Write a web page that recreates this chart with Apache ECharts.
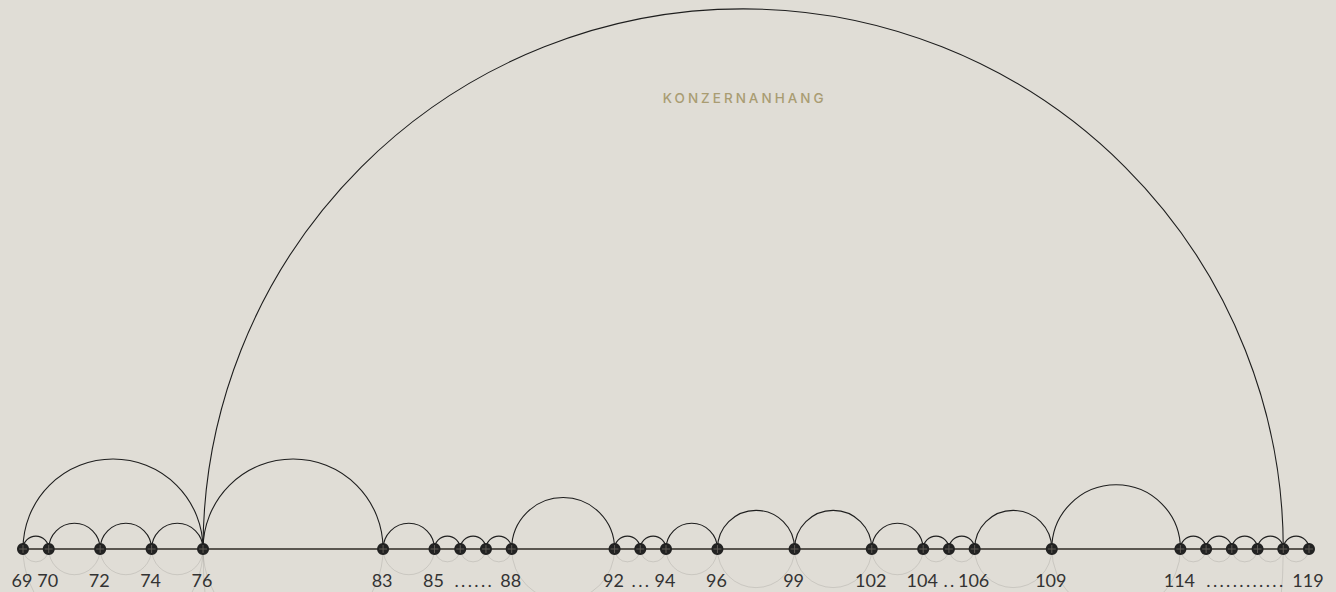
<!DOCTYPE html>
<html>
<head>
<meta charset="utf-8">
<script src="https://cdn.jsdelivr.net/npm/echarts@6/dist/echarts.min.js"></script>
<style>
html,body{margin:0;padding:0;background:#e0ddd6;}
#chart{width:1336px;height:592px;}
</style>
</head>
<body>
<div id="chart"></div>
<script>
const pages = [69,70,72,74,76,83,85,86,87,88,92,93,94,96,99,102,104,105,106,109,114,115,116,117,118,119];
const pageLabels = ['69','70','72','74','76','83','85','...','...','88','92','...','94','96','99','102','104','..','106','109','114','...','...','...','...','119'];
const links = [
  [69,70],[70,72],[72,74],[74,76],[76,83],[83,85],[85,86],[86,87],[87,88],[88,92],
  [92,93],[93,94],[94,96],[96,99],[99,102],[102,104],[104,105],[105,106],[106,109],[109,114],
  [114,115],[115,116],[116,117],[117,118],[118,119],
  [69,76],[76,118]
];
const titleText = 'KONZERNANHANG';
const titleAnchor = [76,118]; // title centred over this arc

const isDots = s => /^\.+$/.test(s);
const LABEL_FONT = '18px "Lato", "Noto Sans", sans-serif';
const DOT_PITCH = 6.6;

const chart = echarts.init(document.getElementById('chart'), null, {renderer:'svg'});

chart.setOption({
  backgroundColor:'#e0ddd6',
  animation:false,
  grid:{left:23,right:27,top:0,bottom:43},
  xAxis:{type:'value',min:69,max:119,
    axisLine:{show:true,onZero:false,lineStyle:{color:'#5a5650',width:2}},
    axisTick:{show:false},axisLabel:{show:false},splitLine:{show:false}},
  yAxis:{type:'value',min:0,max:1,show:false},
  series:[
    {
      type:'custom',
      clip:false,
      z:2,
      data:links.map(l=>[l[0],l[1],0]),
      encode:{x:[0,1],y:2},
      renderItem:function(params,api){
        const p1 = api.coord([api.value(0),0]);
        const p2 = api.coord([api.value(1),0]);
        const cx = (p1[0]+p2[0])/2, cy = p1[1], r = (p2[0]-p1[0])/2;
        return {type:'group',children:[
          {type:'arc',shape:{cx:cx,cy:cy,r:r,startAngle:0,endAngle:Math.PI,clockwise:true},
           style:{fill:null,stroke:'rgba(0,0,0,0.1)',lineWidth:1}},
          {type:'arc',shape:{cx:cx,cy:cy,r:r,startAngle:Math.PI,endAngle:2*Math.PI,clockwise:true},
           style:{fill:null,stroke:'#1e1e1e',lineWidth:1.1}}
        ]};
      }
    },
    {
      type:'custom',
      clip:false,
      z:3,
      data:pages.map((p,i)=>[p,0]),
      encode:{x:0,y:1},
      renderItem:function(params,api){
        const i = params.dataIndex;
        const p = api.coord([api.value(0),0]);
        const label = pageLabels[i];
        const children = [
          {type:'circle',shape:{cx:p[0],cy:p[1],r:6},style:{fill:'#222'}},
          {type:'line',shape:{x1:p[0]-4,y1:p[1],x2:p[0]+4,y2:p[1]},style:{stroke:'#5e5a55',lineWidth:1}},
          {type:'line',shape:{x1:p[0],y1:p[1]-4,x2:p[0],y2:p[1]+4},style:{stroke:'#5e5a55',lineWidth:1}}
        ];
        const ty = p[1]+31;
        if(!isDots(label)){
          children.push({type:'text',x:p[0]-1,y:ty,style:{text:label,fill:'#333',align:'center',verticalAlign:'middle',font:LABEL_FONT}});
        } else {
          // dots of a run of consecutive pages are spread evenly between the run's end labels
          let a=i; while(a>0 && isDots(pageLabels[a-1])) a--; a--;
          let b=i; while(b<pageLabels.length-1 && isDots(pageLabels[b+1])) b++; b++;
          const xa = api.coord([pages[a],0])[0], xb = api.coord([pages[b],0])[0];
          let total=0, before=0;
          for(let k=a+1;k<b;k++){ if(k<i) before+=pageLabels[k].length; total+=pageLabels[k].length; }
          const mid=(xa+xb)/2;
          for(let c=0;c<label.length;c++){
            const g=before+c;
            children.push({type:'text',x:mid+(g-(total-1)/2)*DOT_PITCH,y:ty,
              style:{text:'.',fill:'#333',align:'center',verticalAlign:'middle',font:LABEL_FONT}});
          }
        }
        return {type:'group',children:children};
      }
    }
  ]
});

const tx = chart.convertToPixel({xAxisIndex:0},(titleAnchor[0]+titleAnchor[1])/2);
chart.setOption({
  graphic:[{
    type:'text',id:'ttl',x:tx+1.5,y:98,
    style:{text:titleText,fill:'#a99c72',align:'center',verticalAlign:'middle',
      font:'500 13.5px "Inter", "Noto Sans", sans-serif'}
  }]
});

// letter spacing of the title (SVG renderer)
document.querySelectorAll('#chart text').forEach(t=>{
  if(t.textContent===titleText){ t.style.letterSpacing='3px'; }
});
</script>
</body>
</html>
